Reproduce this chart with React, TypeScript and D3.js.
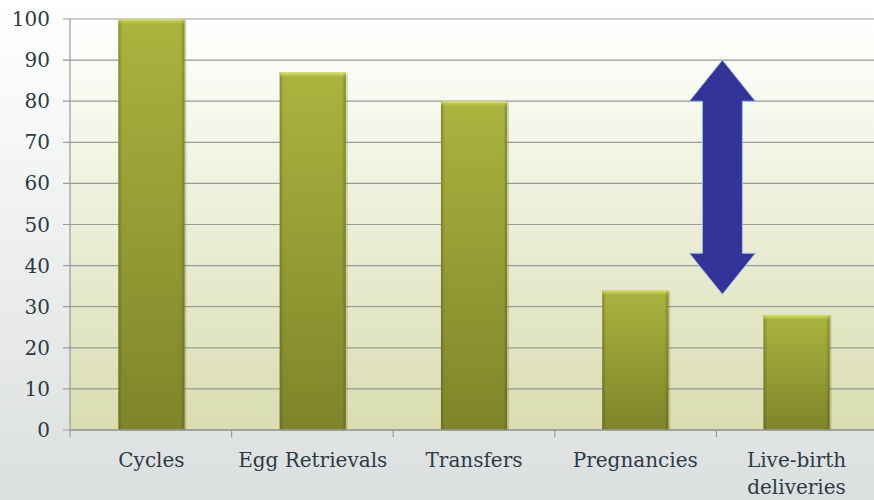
import React from "react";
import * as d3 from "d3";

const categories = ["Cycles", "Egg Retrievals", "Transfers", "Pregnancies", "Live-birth deliveries"];
const values = [100, 87, 80, 34, 28];
const yTicks = [0, 10, 20, 30, 40, 50, 60, 70, 80, 90, 100];
// double arrow spanning between Pregnancies and Live-birth (value units)
const arrowTop = 90;
const arrowBottom = 33;
const arrowHead = 10;

const W = 874;
const H = 500;
const M = { left: 70, right: -4, top: 19, bottom: 70 };

export default function App() {
  const x = d3.scaleBand<string>().domain(categories).range([M.left, W - M.right]).paddingInner(0.59).paddingOuter(0.3);
  const y = d3.scaleLinear().domain([0, 100]).range([H - M.bottom, M.top]);
  const band = d3.scaleBand<string>().domain(categories).range([M.left, W - M.right]);
  const textColor = "#2e3a44";

  const ax = band(categories[4])! + 6;
  const shaftHalf = 20;
  const headHalf = 33;
  const arrowPath = d3.path();
  arrowPath.moveTo(ax, y(arrowTop));
  arrowPath.lineTo(ax + headHalf, y(arrowTop - arrowHead));
  arrowPath.lineTo(ax + shaftHalf, y(arrowTop - arrowHead));
  arrowPath.lineTo(ax + shaftHalf, y(arrowBottom + arrowHead));
  arrowPath.lineTo(ax + headHalf, y(arrowBottom + arrowHead));
  arrowPath.lineTo(ax, y(arrowBottom));
  arrowPath.lineTo(ax - headHalf, y(arrowBottom + arrowHead));
  arrowPath.lineTo(ax - shaftHalf, y(arrowBottom + arrowHead));
  arrowPath.lineTo(ax - shaftHalf, y(arrowTop - arrowHead));
  arrowPath.lineTo(ax - headHalf, y(arrowTop - arrowHead));
  arrowPath.closePath();

  return (
    <svg width={W} height={H} style={{ position: "absolute", left: 0, top: 0, display: "block" }} fontFamily="'DejaVu Serif', serif">
      <defs>
        <linearGradient id="bg" x1="0" y1="0" x2="0" y2="1">
          <stop offset="0" stopColor="#ffffff" />
          <stop offset="1" stopColor="#dcdfdf" />
        </linearGradient>
        <linearGradient id="plotbg" x1="0" y1="0" x2="0" y2="1">
          <stop offset="0" stopColor="#ffffff" />
          <stop offset="1" stopColor="#d9ddb0" />
        </linearGradient>
        <linearGradient id="barV" x1="0" y1="0" x2="0" y2="1">
          <stop offset="0" stopColor="#aab43e" />
          <stop offset="1" stopColor="#7e852a" />
        </linearGradient>
        <linearGradient id="barH" x1="0" y1="0" x2="1" y2="0">
          <stop offset="0" stopColor="#3c4010" stopOpacity="0.35" />
          <stop offset="0.06" stopColor="#3c4010" stopOpacity="0" />
          <stop offset="0.94" stopColor="#3c4010" stopOpacity="0" />
          <stop offset="1" stopColor="#3c4010" stopOpacity="0.35" />
        </linearGradient>
        <linearGradient id="barTop" x1="0" y1="0" x2="0" y2="1">
          <stop offset="0" stopColor="#e3ea7a" stopOpacity="0.9" />
          <stop offset="1" stopColor="#c9d05a" stopOpacity="0" />
        </linearGradient>
      </defs>
      <rect x={0} y={0} width={W} height={H} fill="url(#bg)" />
      <rect x={M.left} y={M.top} width={W - M.left} height={y(0) - M.top} fill="url(#plotbg)" />
      {yTicks.map((t) => (
        <g key={t}>
          <line x1={M.left - 7} x2={W} y1={y(t)} y2={y(t)} stroke="#9a9a9a" strokeWidth={1.2} />
          <text x={50} y={y(t)} dy="0.35em" textAnchor="end" fontSize={20} fill={textColor}>{t}</text>
        </g>
      ))}
      <line x1={M.left} x2={M.left} y1={M.top} y2={y(0) + 7} stroke="#9a9a9a" strokeWidth={1.2} />
      {categories.map((c, i) => (
        <line key={c} x1={band(c)! + band.bandwidth()} x2={band(c)! + band.bandwidth()} y1={y(0)} y2={y(0) + 7} stroke="#9a9a9a" strokeWidth={1.2} />
      ))}
      {categories.map((c, i) => {
        const bx = x(c)!;
        const bw = x.bandwidth();
        const by = y(values[i]);
        const bh = y(0) - by;
        return (
          <g key={c}>
            <rect x={bx + 2} y={by + 1} width={bw} height={bh} fill="#6b7020" opacity={0.25} />
            <rect x={bx} y={by} width={bw} height={bh} fill="url(#barV)" />
            <rect x={bx} y={by} width={bw} height={bh} fill="url(#barH)" />
            <rect x={bx} y={by} width={bw} height={5} fill="url(#barTop)" />
          </g>
        );
      })}
      <line x1={M.left} x2={W} y1={y(0)} y2={y(0)} stroke="#9a9a9a" strokeWidth={1.5} />
      {categories.map((c) => {
        const cx = x(c)! + x.bandwidth() / 2;
        const words = c === "Live-birth deliveries" ? ["Live-birth", "deliveries"] : [c];
        return (
          <text key={c} x={cx} y={467} textAnchor="middle" fontSize={20} fill={textColor}>
            {words.map((w, j) => (
              <tspan key={w} x={cx} dy={j === 0 ? 0 : 27}>{w}</tspan>
            ))}
          </text>
        );
      })}
      <path d={arrowPath.toString()} fill="#333399" stroke="#9cc3e0" strokeWidth={1} />
    </svg>
  );
}
